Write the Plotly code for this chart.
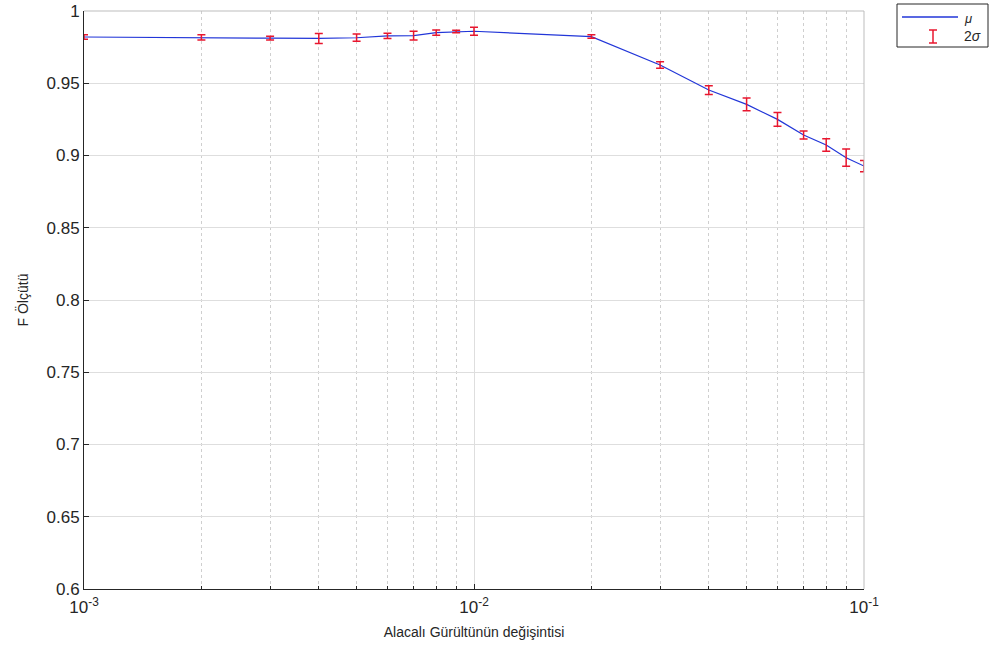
import plotly.graph_objects as go

# data
noise_var = [0.001, 0.002, 0.003, 0.004, 0.005, 0.006, 0.007, 0.008, 0.009, 0.01,
             0.02, 0.03, 0.04, 0.05, 0.06, 0.07, 0.08, 0.09, 0.1]
f_mean = [0.982, 0.9818, 0.9812, 0.981, 0.9815, 0.9828, 0.983, 0.985, 0.9858, 0.986,
          0.9823, 0.9626, 0.9453, 0.9354, 0.925, 0.9142, 0.9073, 0.8985, 0.8927]
f_2sigma = [0.0015, 0.0018, 0.0013, 0.0035, 0.0025, 0.0018, 0.003, 0.0018, 0.0008, 0.0028,
            0.0012, 0.0023, 0.003, 0.0044, 0.0048, 0.0028, 0.0043, 0.006, 0.0039]
y_ticks = [0.6, 0.65, 0.7, 0.75, 0.8, 0.85, 0.9, 0.95, 1.0]
y_tick_text = ["0.6", "0.65", "0.7", "0.75", "0.8", "0.85", "0.9", "0.95", "1"]
x_ticks = [0.001, 0.01, 0.1]
x_tick_text = ["10<sup>-3</sup>", "10<sup>-2</sup>", "10<sup>-1</sup>"]
x_minor = [k * 10.0 ** e for e in (-3, -2) for k in range(2, 10)]

W, H = 995, 660
L, R, T, B = 84, 131, 11, 71
PW, PH = W - L - R, H - T - B

def px(x):
    return (x - L) / PW

def py(y):
    return (H - B - y) / PH

FONT = "Liberation Sans, Arial, sans-serif"
TXT = "#262626"
BLUE = "#2236d8"
RED = "#e8162e"

fig = go.Figure()
fig.add_trace(go.Scatter(x=noise_var, y=f_mean, mode="lines", cliponaxis=False,
                         line=dict(color=BLUE, width=1.2), name="μ", showlegend=False))
fig.add_trace(go.Scatter(x=noise_var, y=f_mean, mode="markers", cliponaxis=False,
                         marker=dict(size=1, color="rgba(0,0,0,0)"),
                         error_y=dict(type="data", array=f_2sigma, visible=True,
                                      color=RED, thickness=1.5, width=4),
                         name="2σ", showlegend=False))

fig.update_xaxes(type="log", range=[-3, -1], tickvals=x_ticks, ticktext=x_tick_text,
                 automargin=False,
                 showgrid=True, gridcolor="#dedede", gridwidth=1,
                 minor=dict(tickvals=x_minor, showgrid=True, gridcolor="#cfcfcf",
                            griddash="dot", gridwidth=1, ticks="inside", ticklen=3,
                            tickcolor=TXT),
                 ticks="inside", ticklen=5, tickcolor=TXT, ticklabelstandoff=3,
                 showline=True, linecolor=TXT, linewidth=1, mirror=False, zeroline=False,
                 tickfont=dict(family=FONT, size=17, color=TXT),
                 title=dict(text="Alacalı Gürültünün değişintisi", standoff=10,
                            font=dict(family=FONT, size=14, color=TXT)))
fig.update_yaxes(range=[0.6, 1.0], tickvals=y_ticks, ticktext=y_tick_text,
                 automargin=False,
                 showgrid=True, gridcolor="#dedede", gridwidth=1,
                 ticks="inside", ticklen=5, tickcolor=TXT,
                 showline=True, linecolor=TXT, linewidth=1, mirror=False, zeroline=False,
                 tickfont=dict(family=FONT, size=17, color=TXT),
                 title=dict(text="F Ölçütü", standoff=14,
                            font=dict(family=FONT, size=14, color=TXT)))

shapes = [
    # top/right box edges
    dict(type="line", xref="paper", yref="paper", x0=0, x1=1, y0=1, y1=1,
         line=dict(color="#bdbdbd", width=1)),
    dict(type="line", xref="paper", yref="paper", x0=1, x1=1, y0=0, y1=1,
         line=dict(color="#bdbdbd", width=1)),
    # legend box
    dict(type="rect", xref="paper", yref="paper", x0=px(897), x1=px(988), y0=py(47), y1=py(4),
         line=dict(color=TXT, width=1), fillcolor="white"),
    dict(type="line", xref="paper", yref="paper", x0=px(902), x1=px(958), y0=py(17), y1=py(17),
         line=dict(color=BLUE, width=1.5)),
    dict(type="line", xref="paper", yref="paper", x0=px(933), x1=px(933), y0=py(43), y1=py(30),
         line=dict(color=RED, width=1.5)),
    dict(type="line", xref="paper", yref="paper", x0=px(929), x1=px(937), y0=py(30), y1=py(30),
         line=dict(color=RED, width=1.5)),
    dict(type="line", xref="paper", yref="paper", x0=px(929), x1=px(937), y0=py(43), y1=py(43),
         line=dict(color=RED, width=1.5)),
]
annotations = [
    dict(text="<i>μ</i>", xref="paper", yref="paper", x=px(962), y=py(19), xanchor="left",
         yanchor="middle", showarrow=False, font=dict(family=FONT, size=13, color=TXT)),
    dict(text="2<i>σ</i>", xref="paper", yref="paper", x=px(962), y=py(36), xanchor="left",
         yanchor="middle", showarrow=False, font=dict(family=FONT, size=14, color=TXT)),
]

fig.update_layout(width=W, height=H, margin=dict(l=L, r=R, t=T, b=B),
                  paper_bgcolor="white", plot_bgcolor="white",
                  shapes=shapes, annotations=annotations, showlegend=False,
                  font=dict(family=FONT, color=TXT))
fig.write_html("out.html")
